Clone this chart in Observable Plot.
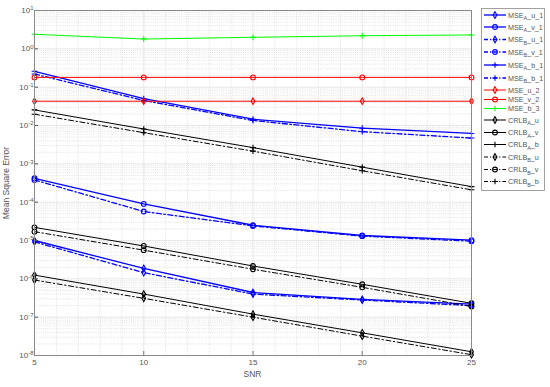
<!DOCTYPE html>
<html><head><meta charset="utf-8">
<script src="https://cdn.jsdelivr.net/npm/d3@7"></script>
<script src="https://cdn.jsdelivr.net/npm/@observablehq/plot@0.6"></script>
<style>
body{margin:0;background:#fff;font-family:"Liberation Sans",Arial,sans-serif;}
#wrap{position:relative;width:550px;height:387px;}
</style></head><body><div id="wrap"></div>
<script>
const snr = [5, 10, 15, 20, 25];
const mseAu1 = [1.0e-5, 1.87e-6, 4.4e-7, 2.9e-7, 2.2e-7];
const mseAv1 = [4.2e-4, 9.0e-5, 2.5e-5, 1.35e-5, 1.02e-5];
const mseBu1 = [9.2e-6, 1.45e-6, 4.0e-7, 2.8e-7, 2.0e-7];
const mseBv1 = [3.8e-4, 5.7e-5, 2.4e-5, 1.3e-5, 9.6e-6];
const mseAb1 = [0.26, 0.05, 0.0146, 0.0085, 0.0062];
const mseBb1 = [0.22, 0.045, 0.0135, 0.0069, 0.0047];
const mseU2 = [0.043, 0.043, 0.043, 0.043, 0.043];
const mseV2 = [0.18, 0.18, 0.18, 0.18, 0.18];
const mseB3 = [2.4, 1.8, 2.0, 2.2, 2.3];
const crlbAu = [1.25e-6, 4.0e-7, 1.2e-7, 3.9e-8, 1.25e-8];
const crlbAv = [2.2e-5, 7.2e-6, 2.16e-6, 7.2e-7, 2.3e-7];
const crlbAb = [0.0255, 0.0081, 0.00265, 0.00082, 0.000254];
const crlbBu = [9.3e-7, 3.1e-7, 1.0e-7, 3.2e-8, 1.05e-8];
const crlbBv = [1.7e-5, 5.6e-6, 1.78e-6, 6.0e-7, 1.9e-7];
const crlbBb = [0.0197, 0.0065, 0.00214, 0.00066, 0.00021];

const xTicks = [5, 10, 15, 20, 25];
const yExps = [-8, -7, -6, -5, -4, -3, -2, -1, 0, 1];

const DD = "5,2.5,1.5,2.5";
const series = [
  {name:"MSE_A_u_1", base:"MSE", sub:"A", rest:"_u_1", color:"#0000ff", dash:null, sym:"diamond", v:mseAu1},
  {name:"MSE_A_v_1", base:"MSE", sub:"A", rest:"_v_1", color:"#0000ff", dash:null, sym:"circle", v:mseAv1},
  {name:"MSE_B_u_1", base:"MSE", sub:"B", rest:"_u_1", color:"#0000ff", dash:DD, sym:"diamond", v:mseBu1},
  {name:"MSE_B_v_1", base:"MSE", sub:"B", rest:"_v_1", color:"#0000ff", dash:DD, sym:"circle", v:mseBv1},
  {name:"MSE_A_b_1", base:"MSE", sub:"A", rest:"_b_1", color:"#0000ff", dash:null, sym:"plus", v:mseAb1},
  {name:"MSE_B_b_1", base:"MSE", sub:"B", rest:"_b_1", color:"#0000ff", dash:DD, sym:"plus", v:mseBb1},
  {name:"MSE_u_2", base:"MSE_u_2", sub:"", rest:"", color:"#ff0000", dash:null, sym:"diamond", v:mseU2},
  {name:"MSE_v_2", base:"MSE_v_2", sub:"", rest:"", color:"#ff0000", dash:null, sym:"circle", v:mseV2},
  {name:"MSE_b_3", base:"MSE_b_3", sub:"", rest:"", color:"#00ff00", dash:null, sym:"plus", v:mseB3},
  {name:"CRLB_A_u", base:"CRLB", sub:"A", rest:"_u", color:"#000000", dash:null, sym:"diamond", v:crlbAu},
  {name:"CRLB_A_v", base:"CRLB", sub:"A", rest:"_v", color:"#000000", dash:null, sym:"circle", v:crlbAv},
  {name:"CRLB_A_b", base:"CRLB", sub:"A", rest:"_b", color:"#000000", dash:null, sym:"plus", v:crlbAb},
  {name:"CRLB_B_u", base:"CRLB", sub:"B", rest:"_u", color:"#000000", dash:DD, sym:"diamond", v:crlbBu},
  {name:"CRLB_B_v", base:"CRLB", sub:"B", rest:"_v", color:"#000000", dash:DD, sym:"circle", v:crlbBv},
  {name:"CRLB_B_b", base:"CRLB", sub:"B", rest:"_b", color:"#000000", dash:DD, sym:"plus", v:crlbBb}
];

const decades = yExps.map(e => Math.pow(10, e));
const minorY = [];
for (const e of yExps.slice(0, -1)) for (let k = 2; k <= 9; k++) minorY.push(k * Math.pow(10, e));
const minorX = d3.range(5, 26, 1).filter(v => !xTicks.includes(v));

const symR = {diamond:2.0, circle:2.4, plus:2.0};

const marks = [
  Plot.ruleY(minorY, {stroke:"#d2d2d2", strokeDasharray:"1,1.2", strokeWidth:0.7}),
  Plot.ruleX(minorX, {stroke:"#d6d6d6", strokeDasharray:"1,1.2", strokeWidth:0.7}),
  Plot.ruleY(decades, {stroke:"#e2e2e2", strokeWidth:0.8}),
  Plot.ruleX(xTicks, {stroke:"#e2e2e2", strokeWidth:0.8}),
];
for (const s of series) {
  const rows = snr.map((x, i) => ({x, y: s.v[i]}));
  marks.push(Plot.line(rows, {x:"x", y:"y", stroke:s.color, strokeWidth: s.color === "#0000ff" ? 1.3 : 1, strokeDasharray: s.dash || undefined}));
}
for (const s of series) {
  const rows = snr.map((x, i) => ({x, y: s.v[i]}));
  marks.push(Plot.dot(rows, {x:"x", y:"y", stroke:s.color, fill:"none", symbol:s.sym, r: symR[s.sym], strokeWidth:1.1}));
}
marks.push(
  Plot.axisX({ticks:xTicks, tickSize:-4, tickPadding:8, tickFormat:d=>String(d), label:null, fontSize:8, color:"#555", stroke:"#777"}),
  Plot.axisY({ticks:decades, tickSize:-4, tickPadding:5, tickFormat:d=>String(Math.round(Math.log10(d))), label:null, fontSize:8, color:"#555"}),
  Plot.frame({stroke:"#8a8a8a", strokeWidth:1})
);

const chart = Plot.plot({
  width:550, height:387,
  marginLeft:34, marginRight:79, marginTop:10, marginBottom:32,
  style:{fontFamily:"'Liberation Sans', Arial, sans-serif", background:"#fff", color:"#555"},
  x:{domain:[5,25], type:"linear"},
  y:{type:"log", domain:[1e-8, 10]},
  marks
});

d3.select(chart).selectAll('g[aria-label="y-axis tick label"] text').each(function(){
  const t = d3.select(this); const e = t.text(); t.text("");
  t.append("tspan").text("10");
  t.append("tspan").attr("dy","-0.45em").attr("font-size","6").text(e);
});

const svg = d3.select(chart);
svg.append("text").attr("x", 252.5).attr("y", 377).attr("text-anchor","middle")
  .attr("font-size", 8.5).attr("fill","#555").text("SNR");
svg.append("text").attr("transform","translate(9,183) rotate(-90)").attr("text-anchor","middle")
  .attr("font-size", 8.5).attr("fill","#555").text("Mean Square Error");

const lg = svg.append("g").attr("text-anchor","start");
lg.append("rect").attr("x",481.5).attr("y",8.5).attr("width",63).attr("height",182)
  .attr("fill","#fff").attr("stroke","#8a8a8a").attr("stroke-width",0.8);
const ly = [15,27,39.5,52,65,78,90,99.5,108.5,120,132.5,144.5,157,169.5,181.5];
const symMap = {diamond:d3.symbolDiamond, circle:d3.symbolCircle, plus:d3.symbolPlus};
series.forEach((s, i) => {
  const y = ly[i];
  lg.append("line").attr("x1",484).attr("x2",506).attr("y1",y).attr("y2",y)
    .attr("stroke",s.color).attr("stroke-width",s.color === "#0000ff" ? 1.3 : 1)
    .attr("stroke-dasharray", s.dash ? "4,2,1.2,2" : null);
  const r = symR[s.sym];
  lg.append("path").attr("transform",`translate(495,${y})`).attr("d", d3.symbol(symMap[s.sym], Math.PI*r*r)())
    .attr("fill","none").attr("stroke",s.color).attr("stroke-width",1.1);
  const t = lg.append("text").attr("x",508).attr("y",y+2.5).attr("font-size",7.2).attr("fill","#555");
  t.append("tspan").text(s.base);
  if (s.sub) {
    t.append("tspan").attr("dy","2.5").attr("font-size",5.5).text(s.sub);
    t.append("tspan").attr("dy","-2.5").text(s.rest);
  }
});

document.getElementById("wrap").appendChild(chart);
</script></body></html>
